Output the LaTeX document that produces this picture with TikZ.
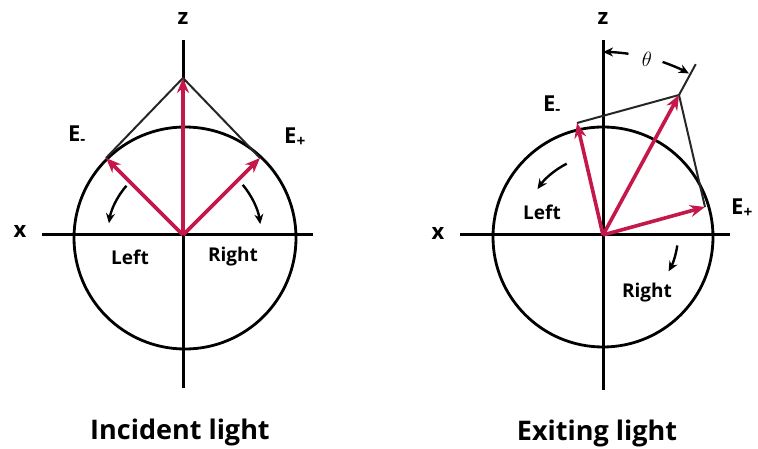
\documentclass[tikz,border=0pt]{standalone}
\usepackage{fontspec}
\setmainfont{Open Sans}
\usepackage{tikz}
\usetikzlibrary{arrows.meta, positioning, calc}
\definecolor{vecred}{RGB}{196,24,74}

\begin{document}
\begin{tikzpicture}[
    x=1pt, y=1pt,
    axis/.style={draw, line width=3pt},
    ring/.style={draw, line width=2.8pt},
    vec/.style={draw=vecred, line width=3.6pt, -{Stealth[length=15pt, width=12pt]}},
    guide/.style={draw, line width=2pt, black!85},
    turn/.style={draw, line width=2.4pt, -{Stealth[length=10pt, width=9pt]}},
    axLabel/.style={font=\bfseries\fontsize{22}{24}\selectfont},
    eLabel/.style={font=\bfseries\fontsize{22}{24}\selectfont},
    dirLabel/.style={font=\bfseries\fontsize{19}{22}\selectfont},
    title/.style={font=\bfseries\fontsize{27}{32}\selectfont}
]
    \useasboundingbox (0,0) rectangle (758,449);

    % Incident light
    \begin{scope}[shift={(183,214)}]
        \coordinate (oA) at (0,0);
        \coordinate (zTopA) at (0,195);
        \coordinate (zBotA) at (0,-153);
        \coordinate (xLeftA) at (-141,0);
        \coordinate (xRightA) at (130,0);
        \coordinate (eMinusA) at (-77,77);
        \coordinate (ePlusA) at (77,77);
        \coordinate (sumA) at (0,157);

        \draw[ring] (2,-3) circle[radius=111];
        \draw[axis] (xLeftA) -- (xRightA);
        \draw[axis] (zBotA) -- (zTopA);
        \draw[guide] (eMinusA) -- (sumA) -- (ePlusA);
        \draw[vec] (oA) -- (eMinusA);
        \draw[vec] (oA) -- (ePlusA);
        \draw[vec] (oA) -- (sumA);
        \draw[turn] (139:75) arc[start angle=139, end angle=171, radius=75];
        \draw[turn] (40:78) arc[start angle=40, end angle=8, radius=78];

        \node[axLabel] (zA) at (0,216) {z};
        \node[axLabel] (xA) at (-163,3) {x};
        \node[eLabel] (eMA) at (-106,100) {E\textsubscript{-}};
        \node[eLabel] (ePA) at (112,98) {E\textsubscript{+}};
        \node[dirLabel] (leftA) at (-53,-22) {Left};
        \node[dirLabel] (rightA) at (50,-22) {Right};
        \node[title] (titleA) at (-3,-197) {Incident light};
    \end{scope}

    % Exiting light
    \begin{scope}[shift={(603,214)}]
        \coordinate (oB) at (0,0);
        \coordinate (zTopB) at (0,195);
        \coordinate (zBotB) at (0,-155);
        \coordinate (xLeftB) at (-143,0);
        \coordinate (xRightB) at (127,0);
        \coordinate (eMinusB) at (-26,112);
        \coordinate (ePlusB) at (102,28);
        \coordinate (sumB) at (76,140);

        \draw[ring] (0,-2) circle[radius=110];
        \draw[axis] (xLeftB) -- (xRightB);
        \draw[axis] (zBotB) -- (zTopB);
        \draw[guide] (eMinusB) -- (sumB) -- (ePlusB);
        \draw[guide] (sumB) -- ($(oB)!1.22!(sumB)$);
        \draw[vec] (oB) -- (eMinusB);
        \draw[vec] (oB) -- (ePlusB);
        \draw[vec] (oB) -- (sumB);
        \draw[turn] (117:80) arc[start angle=117, end angle=145, radius=80];
        \draw[turn] (-8:75) arc[start angle=-8, end angle=-29, radius=75];
        \draw[turn] (82:183) arc[start angle=82, end angle=90, radius=183];
        \draw[turn] (71:183) arc[start angle=71, end angle=62, radius=183];

        \node[axLabel] (zB) at (0,216) {z};
        \node[axLabel] (xB) at (-165,1) {x};
        \node[eLabel] (eMB) at (-51,130) {E\textsubscript{-}};
        \node[eLabel] (ePB) at (139,27) {E\textsubscript{+}};
        \node[font=\fontsize{22}{24}\selectfont] (thetaB) at (44,176) {$\theta$};
        \node[dirLabel] (leftB) at (-61,23) {Left};
        \node[dirLabel] (rightB) at (44,-58) {Right};
        \node[title] (titleB) at (-6,-198) {Exiting light};
    \end{scope}

\end{tikzpicture}
\end{document}
